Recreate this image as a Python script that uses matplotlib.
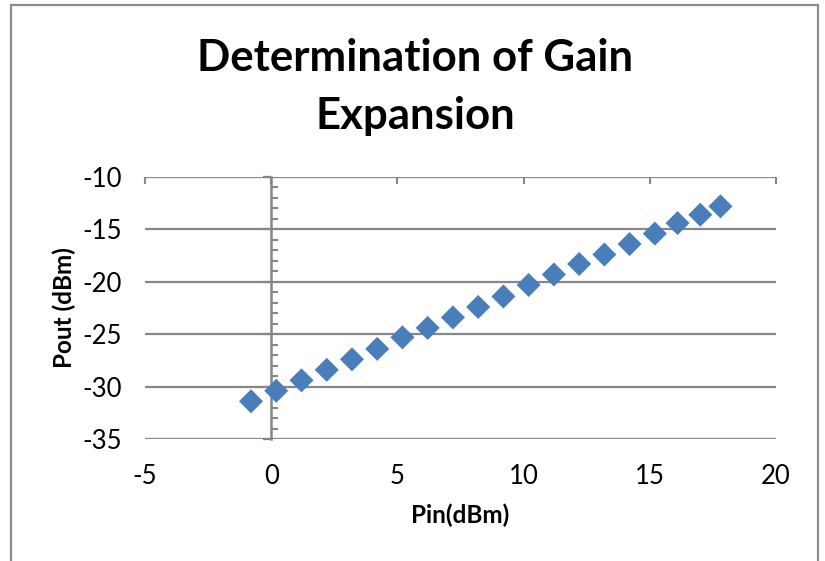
import matplotlib
matplotlib.use("Agg")
import matplotlib.pyplot as plt
from matplotlib.patches import Rectangle
from matplotlib.ticker import MultipleLocator

pin = [-0.8, 0.2, 1.2, 2.2, 3.2, 4.2, 5.2, 6.2, 7.2, 8.2, 9.2, 10.2, 11.2,
       12.2, 13.2, 14.2, 15.2, 16.1, 17.0, 17.8]
pout = [-31.4, -30.4, -29.4, -28.4, -27.4, -26.4, -25.3, -24.4, -23.4, -22.4,
        -21.4, -20.3, -19.3, -18.3, -17.4, -16.4, -15.4, -14.4, -13.6, -12.8]
xticks = [-5, 0, 5, 10, 15, 20]
yticks = [-35, -30, -25, -20, -15, -10]
title_lines = ["Determination of Gain", "Expansion"]
xlabel = "Pin(dBm)"
ylabel = "Pout (dBm)"

plt.rcParams['font.family'] = ['Lato', 'DejaVu Sans']
plt.rcParams['axes.unicode_minus'] = False
W, H = 825, 561
fig = plt.figure(figsize=(W / 100, H / 100), dpi=100)

# outer chart border
fig.patches.append(Rectangle((11 / W, -0.1), (818 - 11) / W, 1 - 5 / H + 0.1,
                             transform=fig.transFigure, fill=False,
                             edgecolor='#8c8c8c', linewidth=1.6))

ax = fig.add_axes([145 / W, 1 - 439 / H, (776 - 145) / W, (439 - 177) / H])
grid_c = '#878787'

ax.scatter(pin, pout, marker='D', s=150, color='#4a7ebb', edgecolors='none', zorder=5)
ax.set_xlim(-5, 20)
ax.set_ylim(-35, -10)
for s in ax.spines.values():
    s.set_visible(False)
ax.set_yticks(yticks)
ax.set_xticks(xticks)
ax.yaxis.grid(True, color=grid_c, linewidth=1.6)
ax.set_axisbelow(True)
ax.tick_params(axis='y', length=0, pad=16.5, labelsize=18.5, labelcolor='black')
ax.tick_params(axis='x', bottom=False, top=True, direction='in', length=5,
               width=1.5, color=grid_c, labelbottom=True, labeltop=False,
               pad=18, labelsize=18.5)

# vertical axis crossing at x = 0
sec = ax.secondary_yaxis(5 / 25)
sec.spines['left'].set_color(grid_c)
sec.spines['left'].set_linewidth(1.8)
sec.set_yticks(yticks)
sec.yaxis.set_minor_locator(MultipleLocator(1))
sec.tick_params(axis='y', which='major', direction='out', length=6, width=1.6,
                color=grid_c, labelleft=False)
sec.tick_params(axis='y', which='minor', direction='in', length=5, width=1.5,
                color=grid_c)

fig.text(415 / W, 1 - 58 / H, title_lines[0], ha='center', va='center',
         fontsize=31.5, fontweight='bold')
fig.text(415 / W, 1 - 116 / H, title_lines[1], ha='center', va='center',
         fontsize=31.5, fontweight='bold')
fig.text(460 / W, 1 - 515 / H, xlabel, ha='center', va='center',
         fontsize=17.5, fontweight='bold')
fig.text(64 / W, 1 - 308 / H, ylabel, ha='center', va='center', rotation=90,
         fontsize=17.5, fontweight='bold')

fig.savefig("out.png", dpi=100)
